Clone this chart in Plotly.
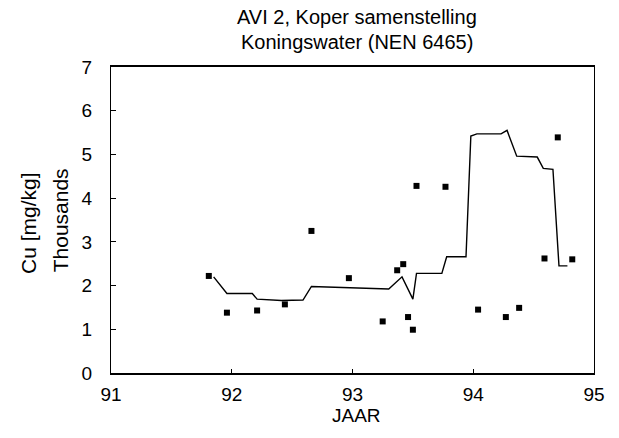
import plotly.graph_objects as go

# Measured samples (year, Cu in thousands mg/kg)
sample_year = [91.81, 91.96, 92.21, 92.44, 92.66, 92.97, 93.25, 93.37, 93.42, 93.46,
               93.50, 93.53, 93.77, 94.04, 94.27, 94.38, 94.59, 94.70, 94.82]
sample_cu = [2.22, 1.38, 1.43, 1.57, 3.25, 2.17, 1.18, 2.35, 2.49, 1.28,
             0.99, 4.28, 4.26, 1.45, 1.28, 1.49, 2.62, 5.39, 2.60]

# Trend line (moving average)
trend_year = [91.85, 91.96, 92.17, 92.21, 92.41, 92.59, 92.66, 92.97, 93.30, 93.41,
              93.50, 93.53, 93.74, 93.78, 93.94, 93.98, 94.03, 94.23, 94.28, 94.36,
              94.53, 94.58, 94.66, 94.71, 94.78]
trend_cu = [2.20, 1.82, 1.82, 1.69, 1.66, 1.67, 1.98, 1.95, 1.92, 2.20,
            1.69, 2.28, 2.28, 2.66, 2.66, 5.42, 5.47, 5.47, 5.55, 4.96,
            4.94, 4.68, 4.66, 2.45, 2.45]

x_ticks = [91, 92, 93, 94, 95]
y_ticks = [0, 1, 2, 3, 4, 5, 6, 7]

title_lines = ["AVI 2, Koper samenstelling", "Koningswater (NEN 6465)"]
x_title = "JAAR"
y_title_lines = ["Cu [mg/kg]", "Thousands"]

font_family = "Liberation Sans, Arial, sans-serif"

fig = go.Figure()
fig.add_trace(go.Scatter(x=trend_year, y=trend_cu, mode="lines",
                         line=dict(color="black", width=1.4), showlegend=False))
fig.add_trace(go.Scatter(x=sample_year, y=sample_cu, mode="markers",
                         marker=dict(symbol="square", size=6, color="black"),
                         showlegend=False))

fig.update_layout(
    width=619, height=438,
    margin=dict(l=111, r=25, t=67, b=65),
    paper_bgcolor="white", plot_bgcolor="white",
    font=dict(family=font_family, color="black", size=19),
)

# Title lines
fig.add_annotation(text=title_lines[0], xref="paper", yref="paper", x=0.509, y=1.163,
                   xanchor="center", yanchor="middle", showarrow=False,
                   font=dict(size=20))
fig.add_annotation(text=title_lines[1], xref="paper", yref="paper", x=0.509, y=1.082,
                   xanchor="center", yanchor="middle", showarrow=False,
                   font=dict(size=20))
# X axis title
fig.add_annotation(text=x_title, xref="paper", yref="paper", x=0.509, y=-0.140,
                   xanchor="center", yanchor="middle", showarrow=False,
                   font=dict(size=19))
# Y axis titles
fig.add_annotation(text=y_title_lines[0], xref="paper", yref="paper", x=-0.172, y=0.49,
                   xanchor="center", yanchor="middle", showarrow=False, textangle=-90,
                   font=dict(size=21))
fig.add_annotation(text=y_title_lines[1], xref="paper", yref="paper", x=-0.105, y=0.50,
                   xanchor="center", yanchor="middle", showarrow=False, textangle=-90,
                   font=dict(size=21))

fig.update_xaxes(range=[91, 95], tickvals=x_ticks, ticktext=[str(v) for v in x_ticks],
                 showgrid=False, zeroline=False, showline=True, linecolor="black",
                 linewidth=1.5, mirror=True, ticks="inside", ticklen=4,
                 tickcolor="black", ticklabelstandoff=3)
fig.update_yaxes(range=[0, 7], tickvals=y_ticks, showgrid=False, zeroline=False,
                 showline=True, linecolor="black", linewidth=1.2, mirror=True,
                 ticks="inside", ticklen=5, tickcolor="black", ticklabelstandoff=14)

fig.write_html("out.html")
